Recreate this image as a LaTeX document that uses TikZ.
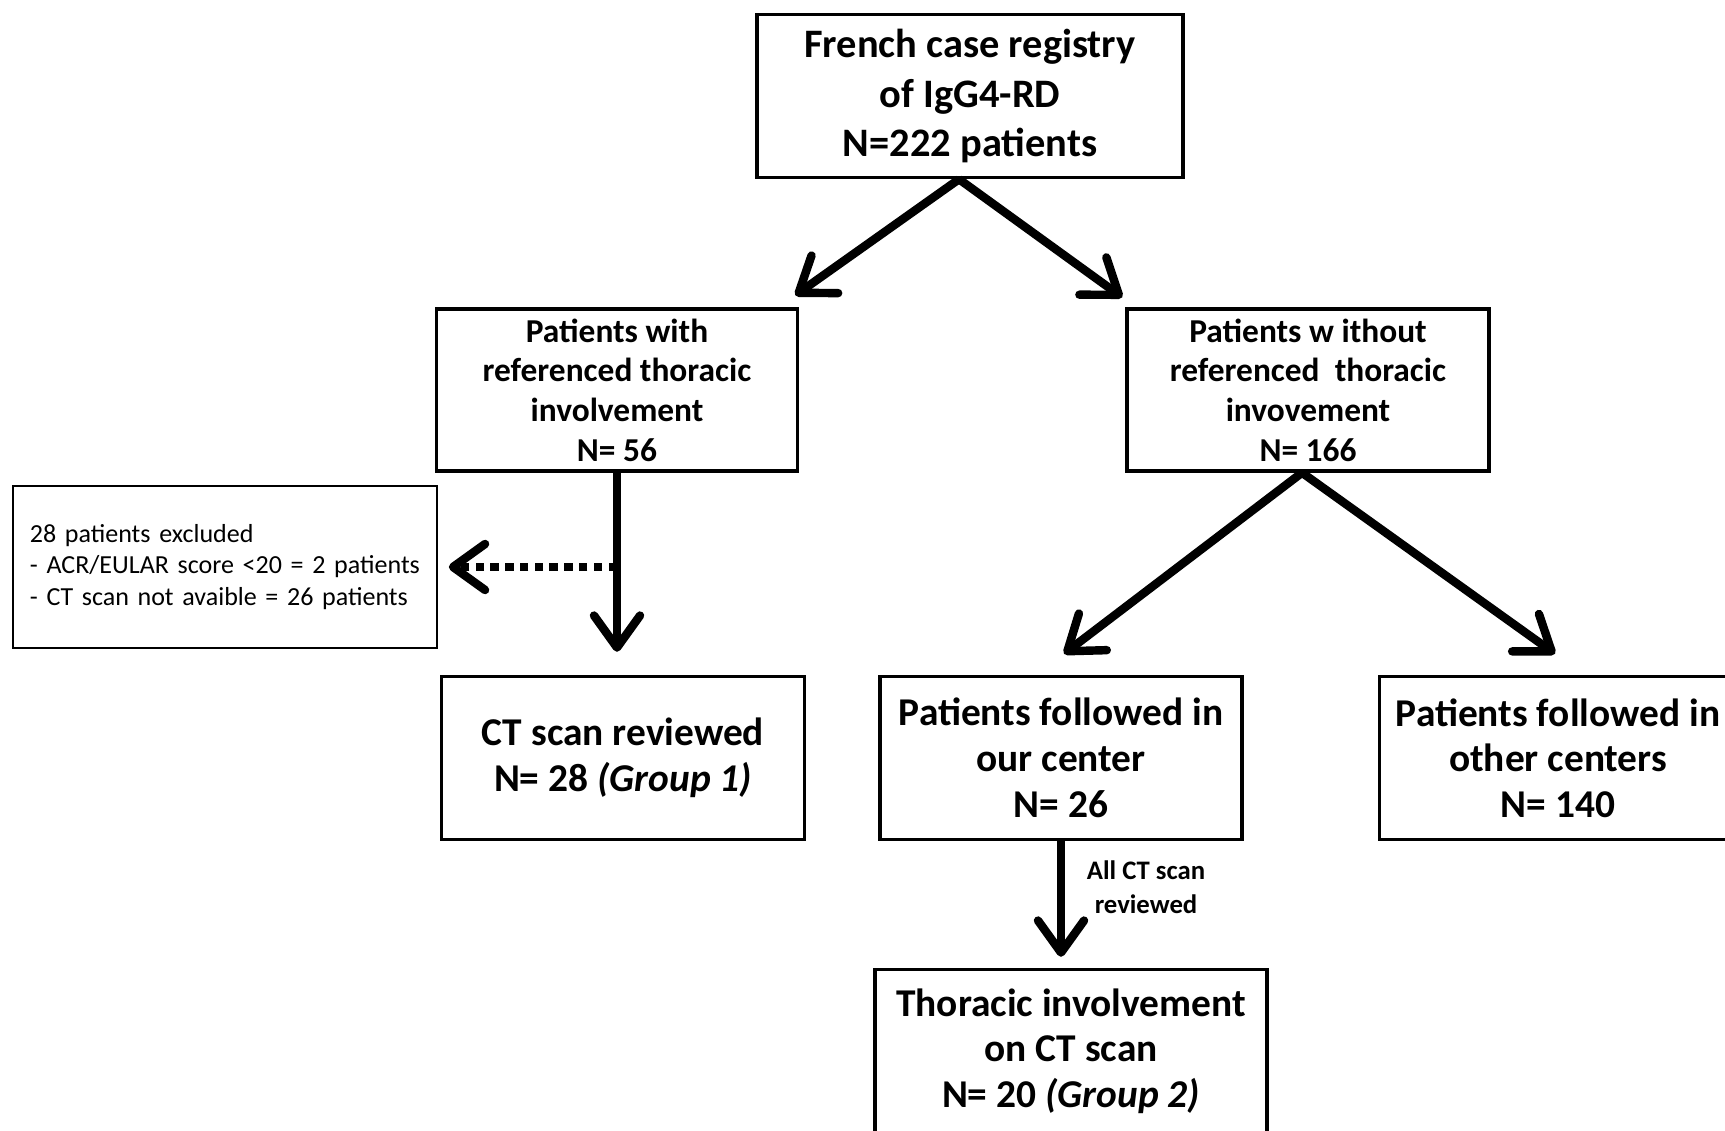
\documentclass[tikz,border=0pt]{standalone}
\usepackage{fontspec}
\setmainfont{Carlito}
\newfontfamily\exclfont[WordSpace=0.75]{Carlito}
\usetikzlibrary{
    positioning,
    arrows.meta,
    calc
}

\tikzset{
    bigbox/.style={draw, line width=0.95pt, align=center, inner sep=2pt,
        minimum height=1.63cm, font=\fontsize{11.5}{14}\selectfont\bfseries},
    midbox/.style={draw, line width=0.95pt, align=center, inner sep=2pt,
        minimum height=1.62cm, font=\fontsize{9.5}{11.3}\selectfont\bfseries},
    lowbox/.style={draw, line width=0.95pt, align=center, inner sep=2pt,
        minimum height=1.63cm, font=\fontsize{11.2}{13}\selectfont\bfseries},
    exclbox/.style={draw, line width=0.4pt, align=left, text width=3.9cm,
        inner xsep=0.17cm, minimum height=1.62cm,
        font=\exclfont\fontsize{7.4}{9}\selectfont},
    flow/.style={line width=2.4pt, -{Straight Barb[length=3.2mm, width=4.6mm, round]}},
    flowlabel/.style={align=center, font=\fontsize{7.6}{9.6}\selectfont\bfseries}
}

\begin{document}
\begin{tikzpicture}[x=0.01cm, y=-0.01cm]
    \useasboundingbox (0,0) rectangle (1725,1131);
    \clip (0,0) rectangle (1725,1131);

    % boxes
    \node[bigbox, minimum width=4.26cm] (reg) at (970,96)
        {French case registry\\of IgG4-RD\\N=222 patients};
    \node[midbox, minimum width=3.61cm] (with) at (617,390)
        {Patients with\\referenced thoracic\\involvement\\N= 56};
    \node[midbox, minimum width=3.62cm] (without) at (1308,390)
        {Patients w ithout\\referenced~ thoracic\\invovement\\N= 166};
    \node[exclbox] (excl) at (225,567)
        {28 patients excluded\\- ACR/EULAR score <20 = 2 patients\\- CT scan not avaible = 26 patients};
    \node[lowbox, minimum width=3.63cm] (rev) at (623,758)
        {CT scan reviewed\\N= 28 \textit{(Group 1)}};
    \node[lowbox, minimum width=3.62cm] (ours) at (1061,758)
        {Patients followed in\\our center\\N= 26};
    \node[lowbox, minimum width=3.57cm] (other) at (1558,758)
        {Patients followed in\\other centers\\N= 140};
    \node[lowbox, minimum width=3.92cm] (thor) at (1071,1051)
        {Thoracic involvement\\on CT scan\\N= 20 \textit{(Group 2)}};

    % arrow ends
    \coordinate (regout) at ($(reg.south)+(-11,0)$);
    \coordinate (withtip) at ($(with.north east)+(-4,-12)$);
    \coordinate (withouttip) at ($(without.north west)+(-3,-10)$);
    \coordinate (revtip) at ($(rev.north)+(0,-23)$);
    \coordinate (excltip) at ($(excl.east)+(11,0)$);
    \coordinate (withoutout) at ($(without.south)+(-6,0)$);
    \coordinate (ourstip) at ($(ours.north)+(3,-21)$);
    \coordinate (othertip) at ($(other.north)+(-3,-21)$);
    \coordinate (thortip) at ($(thor.north)+(0,-11)$);

    % arrows
    \draw[flow] (regout) -- (withtip);
    \draw[flow] (regout) -- (withouttip);
    \draw[flow] (with.south) -- (with.south |- revtip);
    \draw[flow, dash pattern=on 2.4pt off 1.8pt] (with.south |- excl.east) -- (excltip);
    \draw[flow] (withoutout) -- (ourstip);
    \draw[flow] (withoutout) -- (othertip);
    \draw[flow] (ours.south) -- (ours.south |- thortip)
        node[flowlabel, pos=0.4, right=0.1cm] (alllbl) {All CT scan\\reviewed};
\end{tikzpicture}
\end{document}
